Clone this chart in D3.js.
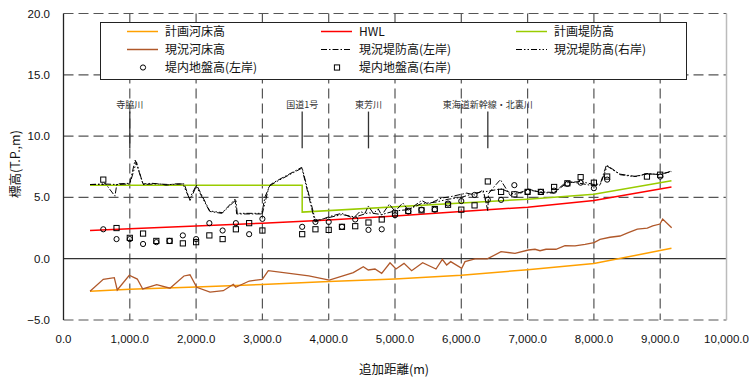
<!DOCTYPE html>
<html>
<head>
<meta charset="utf-8">
<script src="https://cdn.jsdelivr.net/npm/d3@7"></script>
<style>
body { margin: 0; background: #fff; }
svg { display: block; }
.num { font-family: "Liberation Sans", Arial, sans-serif; font-size: 11.5px; fill: #111; }
.jp { font-family: "Noto Sans CJK JP", sans-serif; fill: #111; }
</style>
</head>
<body>
<svg id="chart" width="749" height="379"></svg>
<script>
// axis ticks
const xTicks = [0, 1000, 2000, 3000, 4000, 5000, 6000, 7000, 8000, 9000, 10000];
const yTicks = [-5, 0, 5, 10, 15, 20];

// 計画河床高
const bedPlan = [[400, -2.65], [1000, -2.5], [2000, -2.3], [3000, -2.1], [4000, -1.85], [5000, -1.65],
    [6000, -1.35], [7000, -0.9], [8000, -0.4], [9170, 0.85]];
// HWL
const hwl = [[400, 2.3], [1000, 2.45], [2000, 2.67], [3000, 2.9], [4000, 3.16], [5000, 3.48],
    [6000, 3.85], [7000, 4.2], [8000, 4.75], [9170, 5.85]];
// 計画堤防高
const levPlan = [[400, 6.0], [3600, 6.0], [3600, 3.8], [7000, 4.85], [8000, 5.25], [9170, 6.35]];
// 現況河床高
const bedNow = [[400, -2.65], [600, -1.68], [766, -1.55], [811, -2.55], [992, -1.35], [1113, -1.66],
    [1195, -2.47], [1406, -2.12], [1606, -2.41], [1817, -1.41], [1908, -1.31], [2009, -2.33],
    [2210, -2.72], [2410, -2.61], [2561, -2.09], [2597, -2.33], [2802, -1.82], [2998, -1.68],
    [3089, -0.98], [3700, -1.4], [4009, -1.74], [4371, -1.14], [4522, -0.65], [4597, -0.92],
    [4698, -0.84], [4799, -1.19], [4925, -0.33], [5015, -0.84], [5136, -0.38], [5251, -0.98],
    [5417, -0.33], [5618, -0.84], [5714, -0.05], [5779, -0.51], [5840, -0.24], [6006, -0.78],
    [6056, -0.24], [6207, -0.02], [6392, -0.02], [6599, 0.57], [6810, 0.44], [7011, 0.71],
    [7112, 0.77], [7187, 0.65], [7278, 0.77], [7428, 0.77], [7564, 1.06], [7715, 1.04],
    [7866, 1.17], [8002, 1.31], [8092, 1.58], [8243, 1.75], [8394, 1.85], [8519, 2.12],
    [8655, 2.42], [8805, 2.5], [8887, 2.67], [8997, 2.83], [9037, 3.24], [9173, 2.53]];
// 現況堤防高(左岸)
const levLeft = [[400, 6.05], [600, 6.05], [630, 6.15], [776, 5.1], [805, 6.1], [1000, 6.15], [1080, 8.05],
    [1200, 6.1], [1330, 6.15], [1450, 6.1], [1550, 6.0], [1680, 6.1], [1820, 6.1], [1908, 4.75],
    [2009, 6.0], [2210, 3.85], [2386, 3.7], [2587, 4.85], [2612, 3.65], [2989, 3.65], [3040, 5.05],
    [3115, 6.0], [3164, 6.2], [3593, 7.45], [3793, 3.0], [4020, 3.45], [4196, 3.7], [4371, 3.3],
    [4472, 3.85], [4548, 3.7], [4597, 4.3], [4673, 3.7], [4748, 4.05], [4799, 3.55], [4915, 4.45],
    [5000, 3.85], [5116, 4.55], [5201, 3.95], [5402, 4.75], [5502, 4.45], [5704, 4.95], [5830, 5.05],
    [6081, 5.35], [6200, 5.2], [6330, 5.6], [6400, 3.9], [6410, 5.3], [6500, 5.9], [6590, 6.45],
    [6740, 5.15], [6810, 5.5], [6900, 5.35], [7000, 5.7], [7190, 5.4], [7390, 5.35], [7590, 6.3],
    [7790, 6.15], [7940, 6.0], [8090, 6.0], [8190, 7.65], [8390, 6.9], [8640, 6.7], [8800, 6.95],
    [9000, 6.85], [9170, 7.15]];
// 現況堤防高(右岸)
const levRight = [[400, 6.05], [600, 6.1], [800, 6.05], [1000, 6.1], [1100, 7.9], [1200, 6.05], [1400, 6.1],
    [1600, 6.05], [1800, 6.1], [1900, 4.9], [2000, 5.95], [2200, 3.9], [2400, 3.75], [2600, 4.8],
    [2620, 3.7], [3000, 3.7], [3100, 5.9], [3200, 6.25], [3600, 7.4], [3800, 3.1], [4000, 3.35],
    [4200, 3.6], [4400, 3.4], [4600, 3.75], [4800, 3.6], [5000, 3.9], [5200, 4.0], [5400, 4.5],
    [5600, 4.6], [5800, 4.85], [6000, 5.0], [6200, 5.35], [6400, 5.5], [6600, 5.7], [6800, 5.25],
    [7000, 5.6], [7200, 5.45], [7400, 5.4], [7600, 6.2], [7800, 6.3], [8000, 6.05], [8100, 6.1],
    [8200, 7.55], [8400, 6.85], [8600, 6.7], [8800, 6.9], [9000, 6.9], [9170, 7.1]];

// 堤内地盤高
const stations = [600, 800, 1000, 1200, 1400, 1600, 1800, 2000, 2200, 2400, 2600, 2800, 3000, 3600, 3800,
    4000, 4200, 4400, 4600, 4800, 5000, 5200, 5400, 5600, 5800, 6000, 6200, 6400, 6600, 6800, 7000,
    7200, 7400, 7600, 7800, 8000, 8200, 8800, 9000];
const groundLeft = [2.4, 1.6, 1.6, 1.2, 1.35, 1.45, 1.9, 1.6, 2.9, 2.3, 2.9, 2.0, 3.25, 2.6, 3.0,
    3.0, 2.6, 3.2, 2.35, 2.4, 3.55, 3.85, 4.0, 4.0, 4.5, 4.7, 5.2, 4.8, 4.8, 6.0, 5.45,
    5.45, 5.55, 6.1, 6.2, 5.75, 6.45, null, 6.7];
const groundRight = [6.45, 2.5, 1.7, 2.05, 1.45, 1.45, 1.25, 1.35, 1.9, 1.6, 2.4, 2.9, 2.3, 2.0, 2.4,
    2.35, 2.6, 2.65, 2.95, 3.2, 3.7, 3.9, 3.95, 4.05, 4.4, 4.0, 4.35, 6.3, 5.45, 5.25, 5.45,
    5.45, 5.85, 6.15, 6.65, 6.2, 6.7, 6.7, 6.85];

// 地点名
const landmarks = [["寺脇川", 1000], ["国道1号", 3600], ["東芳川", 4600], ["東海道新幹線・北裏川", 6400]];

const svg = d3.select("#chart");
const x = d3.scaleLinear().domain([0, 10000]).range([63.5, 726.5]);
const y = d3.scaleLinear().domain([-5, 20]).range([320, 13.5]);

// grid
svg.append("g").selectAll("line")
    .data(xTicks.filter(d => d > 0 && d < 10000))
    .enter().append("line")
    .attr("x1", d => x(d)).attr("x2", d => x(d))
    .attr("y1", y(20)).attr("y2", y(-5))
    .attr("stroke", "#555").attr("stroke-width", 1.2).attr("stroke-dasharray", "10,5");

svg.append("g").selectAll("line")
    .data(yTicks.filter(d => d !== 0))
    .enter().append("line")
    .attr("x1", x(0)).attr("x2", x(10000))
    .attr("y1", d => y(d)).attr("y2", d => y(d))
    .attr("stroke", "#555").attr("stroke-width", 1.2).attr("stroke-dasharray", "10,5");

svg.append("line")
    .attr("x1", x(0)).attr("x2", x(10000))
    .attr("y1", y(0)).attr("y2", y(0))
    .attr("stroke", "#333").attr("stroke-width", 1.3);

svg.append("line")
    .attr("x1", x(10000)).attr("x2", x(10000))
    .attr("y1", y(20)).attr("y2", y(-5))
    .attr("stroke", "#bbb").attr("stroke-width", 1.5);

// series
const line = d3.line().x(d => x(d[0])).y(d => y(d[1]));

const drawLine = (data, color, width, dash) => {
    svg.append("path")
        .datum(data)
        .attr("d", line)
        .attr("fill", "none")
        .attr("stroke", color)
        .attr("stroke-width", width)
        .attr("stroke-dasharray", dash || null);
};

drawLine(bedPlan, "#ffa000", 1.5);
drawLine(bedNow, "#b0582a", 1.3);
drawLine(hwl, "#ff0000", 1.5);
drawLine(levPlan, "#99cc00", 1.5);
drawLine(levRight, "#000", 1, "6,2,1.5,2,1.5,2");
drawLine(levLeft, "#000", 1, "6,2,1.5,2");

const leftPts = stations.map((s, i) => [s, groundLeft[i]]).filter(d => d[1] !== null);
const rightPts = stations.map((s, i) => [s, groundRight[i]]).filter(d => d[1] !== null);

svg.append("g").selectAll("circle")
    .data(leftPts)
    .enter().append("circle")
    .attr("cx", d => x(d[0])).attr("cy", d => y(d[1]))
    .attr("r", 2.6)
    .attr("fill", "none").attr("stroke", "#000").attr("stroke-width", 1);

svg.append("g").selectAll("rect")
    .data(rightPts)
    .enter().append("rect")
    .attr("x", d => x(d[0]) - 2.6).attr("y", d => y(d[1]) - 2.6)
    .attr("width", 5.2).attr("height", 5.2)
    .attr("fill", "none").attr("stroke", "#000").attr("stroke-width", 1);

// landmarks
const lm = svg.append("g").selectAll("g").data(landmarks).enter().append("g");
lm.append("line")
    .attr("x1", d => x(d[1])).attr("x2", d => x(d[1]))
    .attr("y1", y(12)).attr("y2", y(9))
    .attr("stroke", "#333").attr("stroke-width", 1.3);
lm.append("text")
    .attr("class", "jp")
    .attr("x", d => x(d[1])).attr("y", y(12) - 4)
    .attr("text-anchor", "middle")
    .style("font-size", "9px")
    .style("fill", "#333")
    .text(d => d[0]);

// legend
const legend = svg.append("g");
legend.append("rect")
    .attr("x", 100.5).attr("y", 22.5).attr("width", 586).attr("height", 57)
    .attr("fill", "#fff").attr("stroke", "#222").attr("stroke-width", 1);

const legendItems = [
    {label: "計画河床高", col: 0, row: 0, color: "#ffa000", w: 1.5},
    {label: "HWL", col: 1, row: 0, color: "#ff0000", w: 1.5},
    {label: "計画堤防高", col: 2, row: 0, color: "#99cc00", w: 1.5},
    {label: "現況河床高", col: 0, row: 1, color: "#b0582a", w: 1.5},
    {label: "現況堤防高(左岸)", col: 1, row: 1, color: "#000", w: 1, dash: "6,2,1.5,2"},
    {label: "現況堤防高(右岸)", col: 2, row: 1, color: "#000", w: 1, dash: "6,2,1.5,2,1.5,2"},
    {label: "堤内地盤高(左岸)", col: 0, row: 2, marker: "circle"},
    {label: "堤内地盤高(右岸)", col: 1, row: 2, marker: "square"}
];
const colX = [127, 321, 516];
const rowY = [31.5, 49.5, 67.5];

legendItems.forEach(d => {
    const lx = colX[d.col], ly = rowY[d.row];
    if (d.marker === "circle") {
        legend.append("circle").attr("cx", lx + 16).attr("cy", ly).attr("r", 2.6)
            .attr("fill", "none").attr("stroke", "#000");
    } else if (d.marker === "square") {
        legend.append("rect").attr("x", lx + 16 - 2.6).attr("y", ly - 2.6).attr("width", 5.2).attr("height", 5.2)
            .attr("fill", "none").attr("stroke", "#000");
    } else {
        legend.append("line").attr("x1", lx).attr("x2", lx + 31).attr("y1", ly).attr("y2", ly)
            .attr("stroke", d.color).attr("stroke-width", d.w)
            .attr("stroke-dasharray", d.dash || null);
    }
    legend.append("text")
        .attr("class", "jp")
        .attr("x", lx + 38).attr("y", ly)
        .attr("dy", "0.36em")
        .style("font-size", "12px")
        .text(d.label);
});

// axes
svg.append("line")
    .attr("x1", x(0)).attr("x2", x(0))
    .attr("y1", y(20)).attr("y2", y(-5))
    .attr("stroke", "#222").attr("stroke-width", 1.3);

svg.append("g").selectAll("text")
    .data(yTicks)
    .enter().append("text")
    .attr("class", "num")
    .attr("x", 50).attr("y", d => y(d))
    .attr("dy", "0.35em")
    .attr("text-anchor", "end")
    .text(d => d3.format(".1f")(d).replace("-", "\u2212"));

svg.append("g").selectAll("text")
    .data(xTicks)
    .enter().append("text")
    .attr("class", "num")
    .attr("x", d => x(d)).attr("y", 339)
    .attr("dy", "0.35em")
    .attr("text-anchor", "middle")
    .text(d => d3.format(",.1f")(d));

svg.append("text")
    .attr("class", "jp")
    .attr("x", 394).attr("y", 370)
    .attr("dy", "0.35em")
    .attr("text-anchor", "middle")
    .style("font-size", "12.5px")
    .text("追加距離(m)");

svg.append("text")
    .attr("class", "jp")
    .attr("transform", "translate(16,164) rotate(-90)")
    .attr("dy", "0.35em")
    .attr("text-anchor", "middle")
    .style("font-size", "12.5px")
    .text("標高(T.P.,m)");
</script>
</body>
</html>
